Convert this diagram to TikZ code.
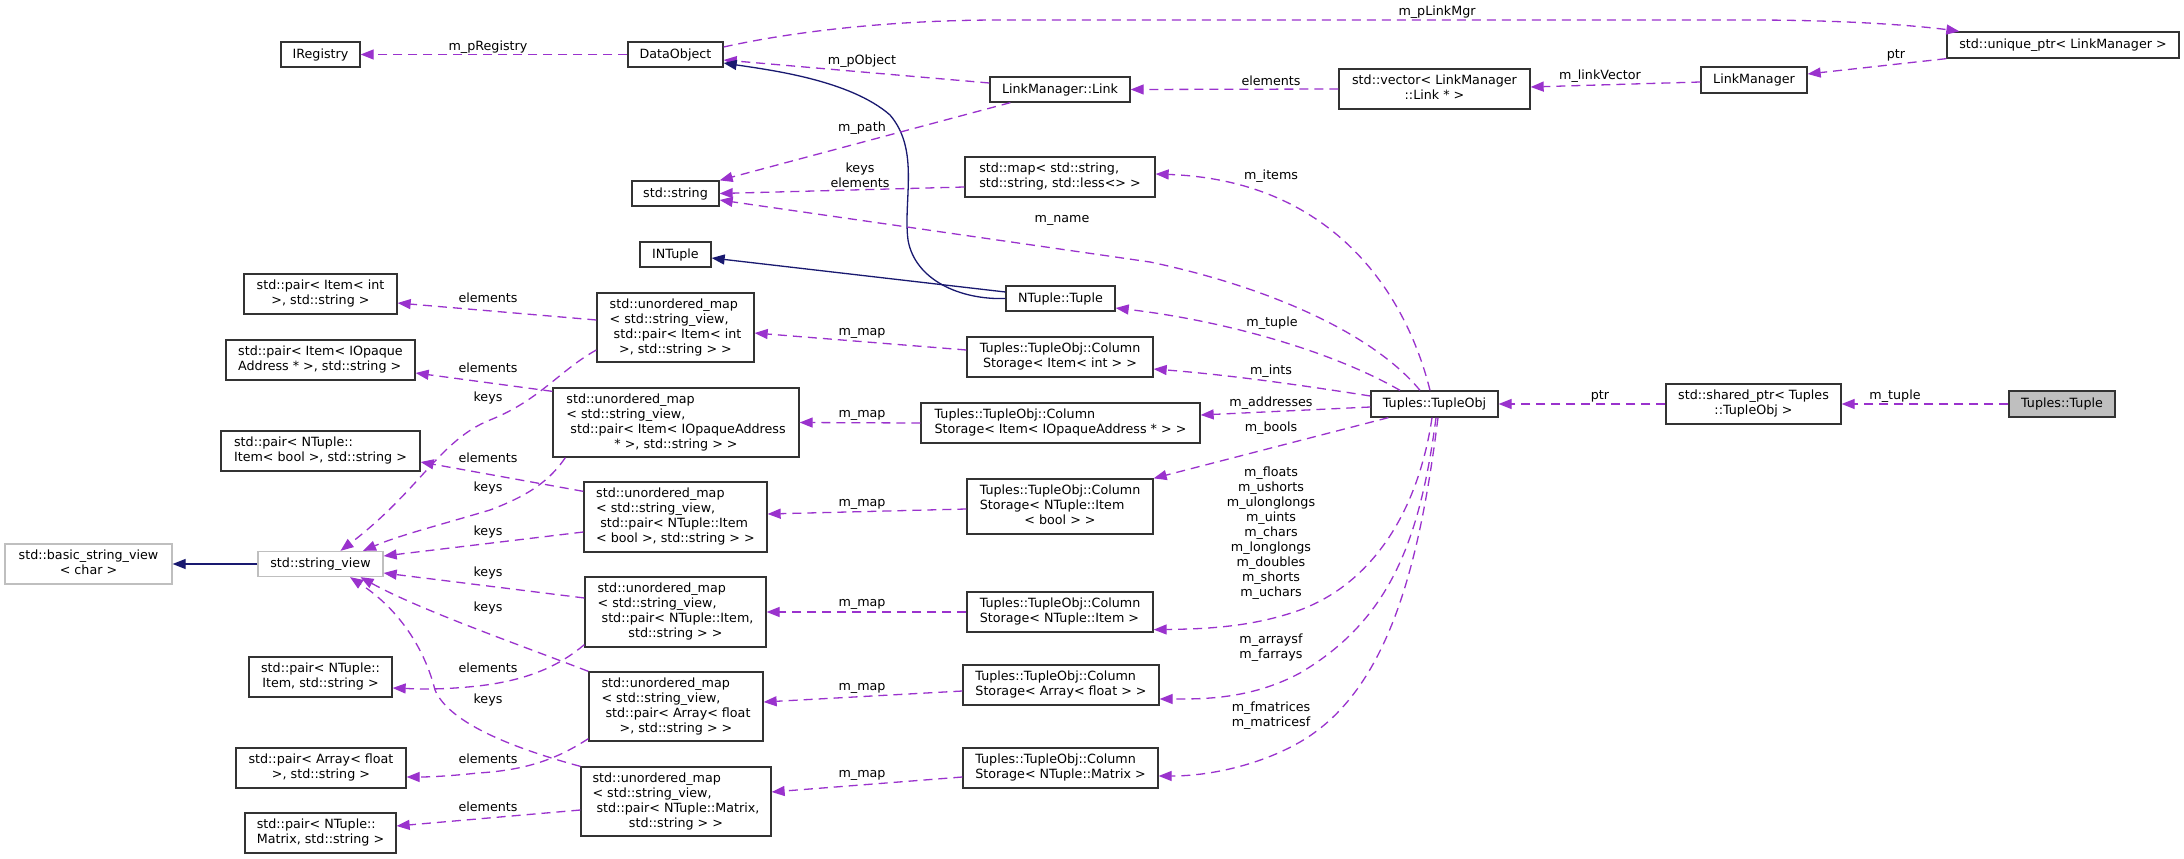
\documentclass[tikz,border=0pt]{standalone}
\usepackage{fontspec}
\setmainfont{DejaVu Sans}
\usetikzlibrary{arrows.meta}
\definecolor{depc}{RGB}{154,50,205}
\definecolor{inhc}{RGB}{25,25,112}
\definecolor{gborder}{RGB}{191,191,191}
\definecolor{nborder}{RGB}{51,51,51}
\definecolor{rootfill}{RGB}{191,191,191}
\newcommand{\mcc}[1]{\multicolumn{1}{@{}c@{}}{#1}}
\newcommand{\tabl}[1]{\begin{tabular}{@{}l@{}}#1\end{tabular}}
\begin{document}
\begin{tikzpicture}[x=1pt,y=-1pt,
  every node/.style={font=\fontsize{12.7}{15}\selectfont},
  box/.style={draw=nborder, line width=1.3pt, fill=white, inner sep=0pt, align=center, rectangle},
  lbl/.style={inner sep=0pt, align=center},
  depl/.style={draw=depc, line width=1.3pt, dash pattern=on 9pt off 6pt, -{Triangle[length=13pt,width=10pt]}},
  inhl/.style={draw=inhc, line width=1.3pt, -{Triangle[length=13pt,width=10pt]}}]
\useasboundingbox (0,0) rectangle (2184,859);
\fill[white] (0,0) rectangle (2184,859);

% nodes
\node[box,minimum width=79,minimum height=25] (ireg) at (320.5,54.5) {IRegistry};
\node[box,minimum width=95,minimum height=25] (dobj) at (675.5,54.5) {DataObject};
\node[box,minimum width=232,minimum height=26] (uptr) at (2063,45) {std::unique\_ptr< LinkManager >};
\node[box,minimum width=140,minimum height=25] (link) at (1060,89.5) {LinkManager::Link};
\node[box,minimum width=191,minimum height=40] (vec) at (1434.5,89) {\tabl{std::vector< LinkManager\\\mcc{::Link * >}}};
\node[box,minimum width=106,minimum height=26] (lmgr) at (1754,80) {LinkManager};
\node[box,minimum width=87,minimum height=25] (str) at (675.5,193.5) {std::string};
\node[box,minimum width=190,minimum height=40] (map) at (1060,177) {\tabl{std::map< std::string,\\\mcc{std::string, std::less<> >}}};
\node[box,minimum width=71,minimum height=25] (intup) at (675.5,254.5) {INTuple};
\node[box,minimum width=109,minimum height=25] (ntup) at (1060.5,298.5) {NTuple::Tuple};
\node[box,minimum width=153,minimum height=40] (pint) at (320.5,294) {\tabl{std::pair< Item< int\\\mcc{>, std::string >}}};
\node[box,minimum width=157,minimum height=69] (umint) at (675.5,327.5) {\tabl{std::unordered\_map\\< std::string\_view,\\\ std::pair< Item< int\\\mcc{>, std::string > >}}};
\node[box,minimum width=186,minimum height=40] (csint) at (1060,357) {\tabl{Tuples::TupleObj::Column\\\mcc{Storage< Item< int > >}}};
\node[box,minimum width=189,minimum height=40] (pio) at (320.5,360) {\tabl{std::pair< Item< IOpaque\\Address * >, std::string >}};
\node[box,minimum width=246,minimum height=69] (umio) at (676,422.5) {\tabl{std::unordered\_map\\< std::string\_view,\\\ std::pair< Item< IOpaqueAddress\\\mcc{* >, std::string > >}}};
\node[box,minimum width=279,minimum height=40] (csio) at (1060.5,423) {\tabl{Tuples::TupleObj::Column\\Storage< Item< IOpaqueAddress * > >}};
\node[box,minimum width=127,minimum height=26] (tobj) at (1434.5,404) {Tuples::TupleObj};
\node[box,minimum width=175,minimum height=40] (sptr) at (1753.5,404) {\tabl{std::shared\_ptr< Tuples\\\mcc{::TupleObj >}}};
\node[box,fill=rootfill,minimum width=106,minimum height=26] (tup) at (2062,404) {Tuples::Tuple};
\node[box,minimum width=199,minimum height=40] (pbool) at (320.5,451) {\tabl{std::pair< NTuple::\\Item< bool >, std::string >}};
\node[box,draw=gborder,minimum width=167,minimum height=40] (bsv) at (88.5,564) {\tabl{std::basic\_string\_view\\\mcc{< char >}}};
\node[box,draw=gborder,minimum width=125,minimum height=25] (sv) at (320.5,564) {std::string\_view};
\node[box,minimum width=183,minimum height=70] (umb) at (675.5,517) {\tabl{std::unordered\_map\\< std::string\_view,\\\ std::pair< NTuple::Item\\\mcc{< bool >, std::string > >}}};
\node[box,minimum width=186,minimum height=55] (csb) at (1060,506.5) {\tabl{Tuples::TupleObj::Column\\Storage< NTuple::Item\\\mcc{< bool > >}}};
\node[box,minimum width=181,minimum height=70] (umni) at (675.5,612) {\tabl{std::unordered\_map\\< std::string\_view,\\\ std::pair< NTuple::Item,\\\mcc{std::string > >}}};
\node[box,minimum width=186,minimum height=40] (csni) at (1060,612) {\tabl{Tuples::TupleObj::Column\\Storage< NTuple::Item >}};
\node[box,minimum width=143,minimum height=40] (pni) at (320.5,677) {\tabl{std::pair< NTuple::\\\mcc{Item, std::string >}}};
\node[box,minimum width=174,minimum height=69] (uma) at (676,706.5) {\tabl{std::unordered\_map\\< std::string\_view,\\\ std::pair< Array< float\\\mcc{>, std::string > >}}};
\node[box,minimum width=196,minimum height=40] (csa) at (1061,685) {\tabl{Tuples::TupleObj::Column\\Storage< Array< float > >}};
\node[box,minimum width=170,minimum height=40] (pa) at (321,768) {\tabl{std::pair< Array< float\\\mcc{>, std::string >}}};
\node[box,minimum width=190,minimum height=69] (umm) at (676,801.5) {\tabl{std::unordered\_map\\< std::string\_view,\\\ std::pair< NTuple::Matrix,\\\mcc{std::string > >}}};
\node[box,minimum width=195,minimum height=40] (csm) at (1060.5,768) {\tabl{Tuples::TupleObj::Column\\Storage< NTuple::Matrix >}};
\node[box,minimum width=151,minimum height=40] (pm) at (320.5,833) {\tabl{std::pair< NTuple::\\Matrix, std::string >}};

% connectors
\draw[depl] (dobj.west) -- (ireg.east);
\draw[depl] ([yshift=6.5]link.west) -- ([yshift=-5.5]dobj.east);
\draw[inhl] (ntup.west) .. controls (960,300) and (915,280) .. (908,240) .. controls (903,200) and (920,150) .. (890,115) .. controls (850,80) and (770,70) .. ([yshift=-8.5]dobj.east);
\draw[depl] ([yshift=7.5]dobj.east) .. controls (800,30) and (900,20) .. (1000,20) -- (1750,20) .. controls (1850,20) and (1920,26) .. ([xshift=13]uptr.north west);
\draw[depl] (vec.west) -- (link.east);
\draw[depl] ([yshift=-2]lmgr.west) -- ([yshift=2]vec.east);
\draw[depl] (uptr.south west) -- ([yshift=6]lmgr.east);
\draw[depl] ([xshift=21]link.south west) -- (str.north east);
\draw[depl] ([yshift=-10]map.west) -- (str.east);
\draw[depl] ([xshift=-14.5]tobj.north) .. controls (1370,330) and (1260,285) .. (1150,262) -- ([yshift=-6.5]str.east);
\draw[depl] ([xshift=-4.5]tobj.north) .. controls (1405,290) and (1330,180) .. ([yshift=3]map.east);
\draw[inhl] ([yshift=6.5]ntup.west) -- ([yshift=-3.5]intup.east);
\draw[depl] ([xshift=-34.5]tobj.north) .. controls (1330,350) and (1220,320) .. ([yshift=-9.5]ntup.east);
\draw[depl] ([yshift=7.5]umint.west) -- ([yshift=-9]pint.east);
\draw[depl] ([yshift=-22.5]umint.west) .. controls (560,370) and (540,400) .. (490,420) .. controls (440,440) and (420,490) .. ([xshift=20]sv.north);
\draw[depl] ([yshift=7]csint.west) -- ([yshift=-5.5]umint.east);
\draw[depl] ([yshift=8]tobj.west) .. controls (1300,385) and (1230,375) .. ([yshift=-12]csint.east);
\draw[depl] ([yshift=-4]umio.north west) -- ([yshift=-13]pio.east);
\draw[depl] ([xshift=13]umio.south west) .. controls (550,480) and (530,495) .. (490,510) .. controls (440,525) and (400,535) .. ([xshift=42.5]sv.north);
\draw[depl] (csio.west) -- (umio.east);
\draw[depl] ([yshift=-3]tobj.west) -- ([yshift=8]csio.east);
\draw[depl] ([yshift=-10]umb.north west) -- ([yshift=-11]pbool.east);
\draw[depl] ([yshift=-15]umb.west) -- ([yshift=8]sv.east);
\draw[depl] ([yshift=-2.5]csb.west) -- ([yshift=3]umb.east);
\draw[depl] ([xshift=18]tobj.south west) -- (csb.north east);
\draw[inhl] (sv.west) -- (bsv.east);
\draw[depl] ([yshift=14]umni.west) -- ([yshift=-9]sv.east);
\draw[depl] ([yshift=3]umni.south west) .. controls (560,665) and (530,680) .. (478,686) .. controls (440,690) and (420,689) .. ([yshift=-11]pni.east);
\draw[depl] (csni.west) -- (umni.east);
\draw[depl] ([xshift=-2.5]tobj.south) .. controls (1420,500) and (1380,580) .. (1300,610) .. controls (1250,628) and (1200,629) .. ([yshift=3]csni.south east);
\draw[depl] (uma.north west) .. controls (520,645) and (420,610) .. ([xshift=40]sv.south);
\draw[depl] ([yshift=3]uma.south west) .. controls (560,757) and (530,770) .. (478,773) .. controls (450,776) and (430,777) .. ([yshift=-9]pa.east);
\draw[depl] ([yshift=-6]csa.west) -- ([yshift=4.5]uma.east);
\draw[depl] ([xshift=1.5]tobj.south) .. controls (1420,540) and (1390,620) .. (1300,673) .. controls (1250,700) and (1200,699) .. ([yshift=-14]csa.east);
\draw[depl] (umm.north west) .. controls (520,750) and (450,725) .. (435,690) .. controls (425,650) and (400,610) .. ([xshift=29.5]sv.south);
\draw[depl] ([yshift=-8.5]umm.west) -- ([yshift=7]pm.east);
\draw[depl] ([yshift=-9]csm.west) -- ([yshift=9.5]umm.east);
\draw[depl] ([xshift=3.5]tobj.south) .. controls (1420,560) and (1390,690) .. (1300,742) .. controls (1260,765) and (1210,776) .. ([yshift=-8]csm.east);
\draw[depl] (sptr.west) -- (tobj.east);
\draw[depl] (tup.west) -- (sptr.east);

% labels
\node[lbl] (l1) at (488,47) {m\_pRegistry};
\node[lbl] (l2) at (862,61) {m\_pObject};
\node[lbl] (l3) at (1437,12) {m\_pLinkMgr};
\node[lbl] (l4) at (1271,81) {elements};
\node[lbl] (l5) at (1600,76) {m\_linkVector};
\node[lbl] (l6) at (1896,55) {ptr};
\node[lbl] (l7) at (862,128) {m\_path};
\node[lbl] (l8) at (860,175.5) {keys\\elements};
\node[lbl] (l9) at (1271,176) {m\_items};
\node[lbl] (l10) at (1062,220) {m\_name};
\node[lbl] (l11) at (1272,323) {m\_tuple};
\node[lbl] (l12) at (488,298) {elements};
\node[lbl] (l13) at (488,398) {keys};
\node[lbl] (l14) at (862,333) {m\_map};
\node[lbl] (l15) at (1271,371) {m\_ints};
\node[lbl] (l16) at (488,368) {elements};
\node[lbl] (l17) at (862,415) {m\_map};
\node[lbl] (l18) at (1271,403) {m\_addresses};
\node[lbl] (l19) at (1271,428) {m\_bools};
\node[lbl] (l20) at (488,458) {elements};
\node[lbl] (l21) at (488,488) {keys};
\node[lbl] (l22) at (488,532) {keys};
\node[lbl] (l23) at (862,504) {m\_map};
\node[lbl] (l24) at (488,573) {keys};
\node[lbl] (l25) at (488,608) {keys};
\node[lbl] (l26) at (488,668) {elements};
\node[lbl] (l27) at (862,604) {m\_map};
\node[lbl] (l28) at (1271,533) {m\_floats\\m\_ushorts\\m\_ulonglongs\\m\_uints\\m\_chars\\m\_longlongs\\m\_doubles\\m\_shorts\\m\_uchars};
\node[lbl] (l29) at (488,700) {keys};
\node[lbl] (l30) at (488,759) {elements};
\node[lbl] (l31) at (862,688) {m\_map};
\node[lbl] (l32) at (1271,647.5) {m\_arraysf\\m\_farrays};
\node[lbl] (l33) at (488,807) {elements};
\node[lbl] (l34) at (862,775) {m\_map};
\node[lbl] (l35) at (1271,715.5) {m\_fmatrices\\m\_matricesf};
\node[lbl] (l36) at (1600,396) {ptr};
\node[lbl] (l37) at (1895,396) {m\_tuple};
\end{tikzpicture}
\end{document}
